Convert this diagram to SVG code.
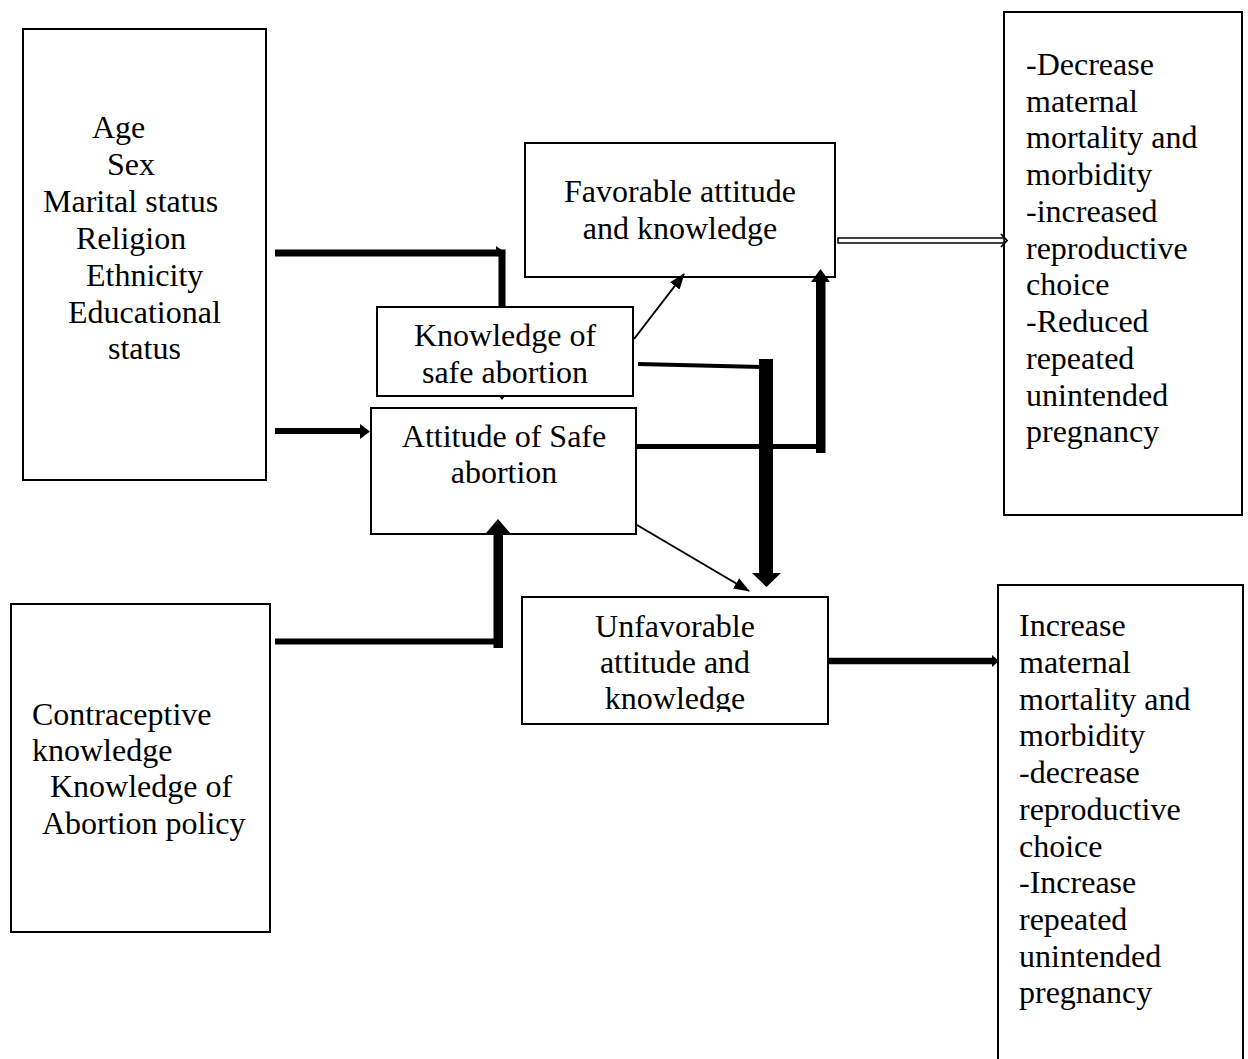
<svg xmlns="http://www.w3.org/2000/svg" width="1248" height="1059" viewBox="0 0 1248 1059">
<style>
.box{fill:#fff;stroke:#000;stroke-width:2}
.t{font-family:"Liberation Serif","Times New Roman",serif;font-size:32px;fill:#000}
.c{text-anchor:middle}
.ln{stroke:#000;fill:none}
.ah{fill:#000;stroke:none}
</style>
<defs>
<marker id="thin" markerWidth="16" markerHeight="12" refX="15" refY="6" orient="auto" markerUnits="userSpaceOnUse">
<path d="M0,0 L16,6 L0,12 Z" fill="#000"/>
</marker>
<clipPath id="unclip"><rect x="522" y="597" width="306" height="115"/></clipPath>
</defs>
<rect width="1248" height="1059" fill="#fff"/>

<g id="demographics">
<rect class="box" x="23" y="29" width="243" height="451"/>
<text class="t" x="92" y="138">Age</text>
<text class="t" x="107" y="175">Sex</text>
<text class="t" x="43" y="212">Marital status</text>
<text class="t" x="76" y="249">Religion</text>
<text class="t" x="86" y="286">Ethnicity</text>
<text class="t" x="68" y="323">Educational</text>
<text class="t" x="108" y="359">status</text>
</g>

<g id="contraceptive">
<rect class="box" x="11" y="604" width="259" height="328"/>
<text class="t" x="32" y="725">Contraceptive</text>
<text class="t" x="32" y="761">knowledge</text>
<text class="t" x="50" y="797">Knowledge of</text>
<text class="t" x="42" y="834">Abortion policy</text>
</g>

<g id="favorable">
<rect class="box" x="525" y="143" width="310" height="134"/>
<text class="t c" x="680" y="202">Favorable attitude</text>
<text class="t c" x="680" y="239">and knowledge</text>
</g>

<g id="knowledge">
<rect class="box" x="377" y="307" width="256" height="89"/>
<text class="t c" x="505" y="346">Knowledge of</text>
<text class="t c" x="505" y="383">safe abortion</text>
</g>

<g id="attitude">
<rect class="box" x="371" y="408" width="265" height="126"/>
<text class="t c" x="504" y="447">Attitude of Safe</text>
<text class="t c" x="504" y="483">abortion</text>
</g>

<g id="unfavorable">
<rect class="box" x="522" y="597" width="306" height="127"/>
<g clip-path="url(#unclip)">
<text class="t c" x="675" y="637">Unfavorable</text>
<text class="t c" x="675" y="673">attitude and</text>
<text class="t c" x="675" y="709">knowledge</text>
</g>
</g>

<g id="positive-outcomes">
<rect class="box" x="1004" y="12" width="238" height="503"/>
<text class="t" x="1026" y="75">-Decrease</text>
<text class="t" x="1026" y="112">maternal</text>
<text class="t" x="1026" y="148">mortality and</text>
<text class="t" x="1026" y="185">morbidity</text>
<text class="t" x="1026" y="222">-increased</text>
<text class="t" x="1026" y="259">reproductive</text>
<text class="t" x="1026" y="295">choice</text>
<text class="t" x="1026" y="332">-Reduced</text>
<text class="t" x="1026" y="369">repeated</text>
<text class="t" x="1026" y="406">unintended</text>
<text class="t" x="1026" y="442">pregnancy</text>
</g>

<g id="negative-outcomes">
<path class="box" d="M998,1060 V585 H1243 V1060"/>
<text class="t" x="1019" y="636">Increase</text>
<text class="t" x="1019" y="673">maternal</text>
<text class="t" x="1019" y="710">mortality and</text>
<text class="t" x="1019" y="746">morbidity</text>
<text class="t" x="1019" y="783">-decrease</text>
<text class="t" x="1019" y="820">reproductive</text>
<text class="t" x="1019" y="857">choice</text>
<text class="t" x="1019" y="893">-Increase</text>
<text class="t" x="1019" y="930">repeated</text>
<text class="t" x="1019" y="967">unintended</text>
<text class="t" x="1019" y="1003">pregnancy</text>
</g>

<g id="connectors">
<path class="ln" stroke-width="7" d="M275,253 H502 V307"/>
<path class="ah" d="M496,246 L506,253 L496,253 Z"/>
<path class="ah" d="M499,396 L505,396 L502,400 Z"/>
<path class="ln" stroke-width="6" d="M275,431 H361"/>
<path class="ah" d="M360,424 L370,431.5 L360,439 Z"/>
<path class="ln" stroke-width="2" d="M634,339 L684,274" marker-end="url(#thin)"/>
<path class="ln" stroke-width="4" d="M638,364 L762,367"/>
<rect class="ah" x="759" y="359" width="14" height="215"/>
<path class="ah" d="M752,573 L781,573 L766.5,587 Z"/>
<path class="ln" stroke-width="5" d="M636,446.5 H818"/>
<rect class="ah" x="816" y="280" width="9.5" height="173"/>
<path class="ah" d="M811,282 L830,282 L820.5,269 Z"/>
<path class="ln" stroke-width="2" d="M637,525 L749,591" marker-end="url(#thin)"/>
<path class="ln" stroke-width="6" d="M275,641.5 H503"/>
<rect class="ah" x="493.5" y="530" width="9.5" height="118"/>
<path class="ah" d="M486,533 L510,533 L498,519 Z"/>
<path d="M838,238 H1004 V243 H838 Z" fill="#fff" stroke="#000" stroke-width="1.5"/>
<path class="ln" stroke-width="1.8" d="M1001,234 L1007,240.5 L1001,247"/>
<path class="ln" stroke-width="6.5" d="M828,661 H993"/>
<path class="ah" d="M992,655 L999,661 L992,667 Z"/>
</g>
</svg>
